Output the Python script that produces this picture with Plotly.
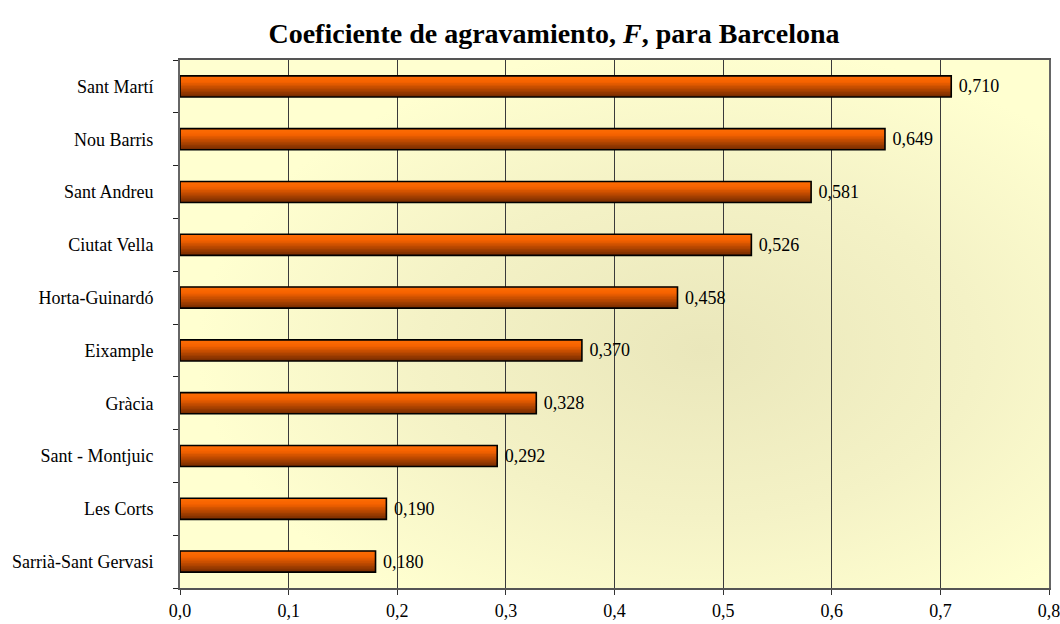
import base64
import plotly.graph_objects as go

# ---- data ----
districts = ["Sarrià-Sant Gervasi", "Les Corts", "Sant - Montjuic", "Gràcia", "Eixample",
             "Horta-Guinardó", "Ciutat Vella", "Sant Andreu", "Nou Barris", "Sant Martí"]
coef_F = [0.180, 0.190, 0.292, 0.328, 0.370, 0.458, 0.526, 0.581, 0.649, 0.710]
x_ticks = [0.0, 0.1, 0.2, 0.3, 0.4, 0.5, 0.6, 0.7, 0.8]

FONT = "Liberation Serif, Times New Roman, serif"
BAR_W = 0.4
N_STRIPES = 14


def lerp(c1, c2, t):
    return tuple(int(round(a + (b - a) * t)) for a, b in zip(c1, c2))


def stripe_color(t):
    # t=0 top of bar, t=1 bottom
    top = (255, 110, 5)
    mid = (245, 98, 0)
    bot = (115, 42, 0)
    if t < 0.3:
        c = lerp(top, mid, t / 0.3)
    else:
        c = lerp(mid, bot, (t - 0.3) / 0.7)
    return "rgb(%d,%d,%d)" % c


fig = go.Figure()
sw = BAR_W / N_STRIPES
for i in range(N_STRIPES):
    t = (i + 0.5) / N_STRIPES
    off = BAR_W / 2 - (i + 1) * sw
    fig.add_trace(go.Bar(
        x=coef_F, y=districts, orientation="h",
        width=sw * 1.15, offset=off,
        marker=dict(color=stripe_color(t), line=dict(width=0)),
        hoverinfo="skip", showlegend=False,
    ))

# outline + value labels
fig.add_trace(go.Bar(
    x=coef_F, y=districts, orientation="h",
    width=BAR_W, offset=-BAR_W / 2,
    marker=dict(color="rgba(0,0,0,0)", line=dict(color="black", width=1.6)),
    texttemplate="\u00a0%{x:.3f}", textposition="outside",
    textfont=dict(family=FONT, size=18, color="black"),
    cliponaxis=False, hoverinfo="skip", showlegend=False,
))

svg = ("<svg xmlns='http://www.w3.org/2000/svg' width='200' height='200' preserveAspectRatio='none'>"
       "<defs><radialGradient id='g' cx='60%' cy='55%' r='58%'>"
       "<stop offset='0' stop-color='#EAE7BB'/>"
       "<stop offset='0.55' stop-color='#F4F2C6'/>"
       "<stop offset='1' stop-color='#FFFFD0'/>"
       "</radialGradient></defs>"
       "<rect width='200' height='200' fill='url(#g)'/></svg>")
src = "data:image/svg+xml;base64," + base64.b64encode(svg.encode()).decode()

fig.update_layout(
    width=1060, height=624,
    margin=dict(l=180, r=11, t=60, b=36),
    paper_bgcolor="white",
    plot_bgcolor="rgba(0,0,0,0)",
    barmode="overlay",
    separators=",.",
    font=dict(family=FONT, size=18, color="black"),
    title=dict(text="<b>Coeficiente de agravamiento, <i>F</i>, para Barcelona</b>",
               font=dict(family=FONT, size=28, color="black"),
               x=554 / 1060, xanchor="center", y=1 - 33 / 624, yanchor="middle"),
    images=[dict(source=src, xref="paper", yref="paper", x=0, y=1, sizex=1, sizey=1,
                 xanchor="left", yanchor="top", sizing="stretch", layer="below")],
    xaxis=dict(range=[0, 0.8], tickvals=x_ticks, tickformat=".1f",
               showgrid=True, gridcolor="#3a3a3a", gridwidth=1,
               showline=True, linecolor="#555555", linewidth=2, mirror=True,
               ticks="outside", ticklen=5, tickcolor="#333333", tickwidth=1,
               zeroline=False, fixedrange=True, automargin=False,
               ticklabeloverflow="allow",
               tickfont=dict(family=FONT, size=18, color="black")),
    yaxis=dict(categoryorder="array", categoryarray=districts,
               showline=True, linecolor="#666666", linewidth=2, mirror=True,
               ticks="outside", ticklen=5, tickcolor="#222222", tickwidth=1,
               tickson="boundaries", ticklabelstandoff=21,
               showgrid=False, zeroline=False, fixedrange=True, automargin=False,
               tickfont=dict(family=FONT, size=18, color="black")),
)

fig.write_html("out.html", config={"displayModeBar": False},
               post_script="document.body.style.margin='0';document.body.style.overflow='hidden';")
